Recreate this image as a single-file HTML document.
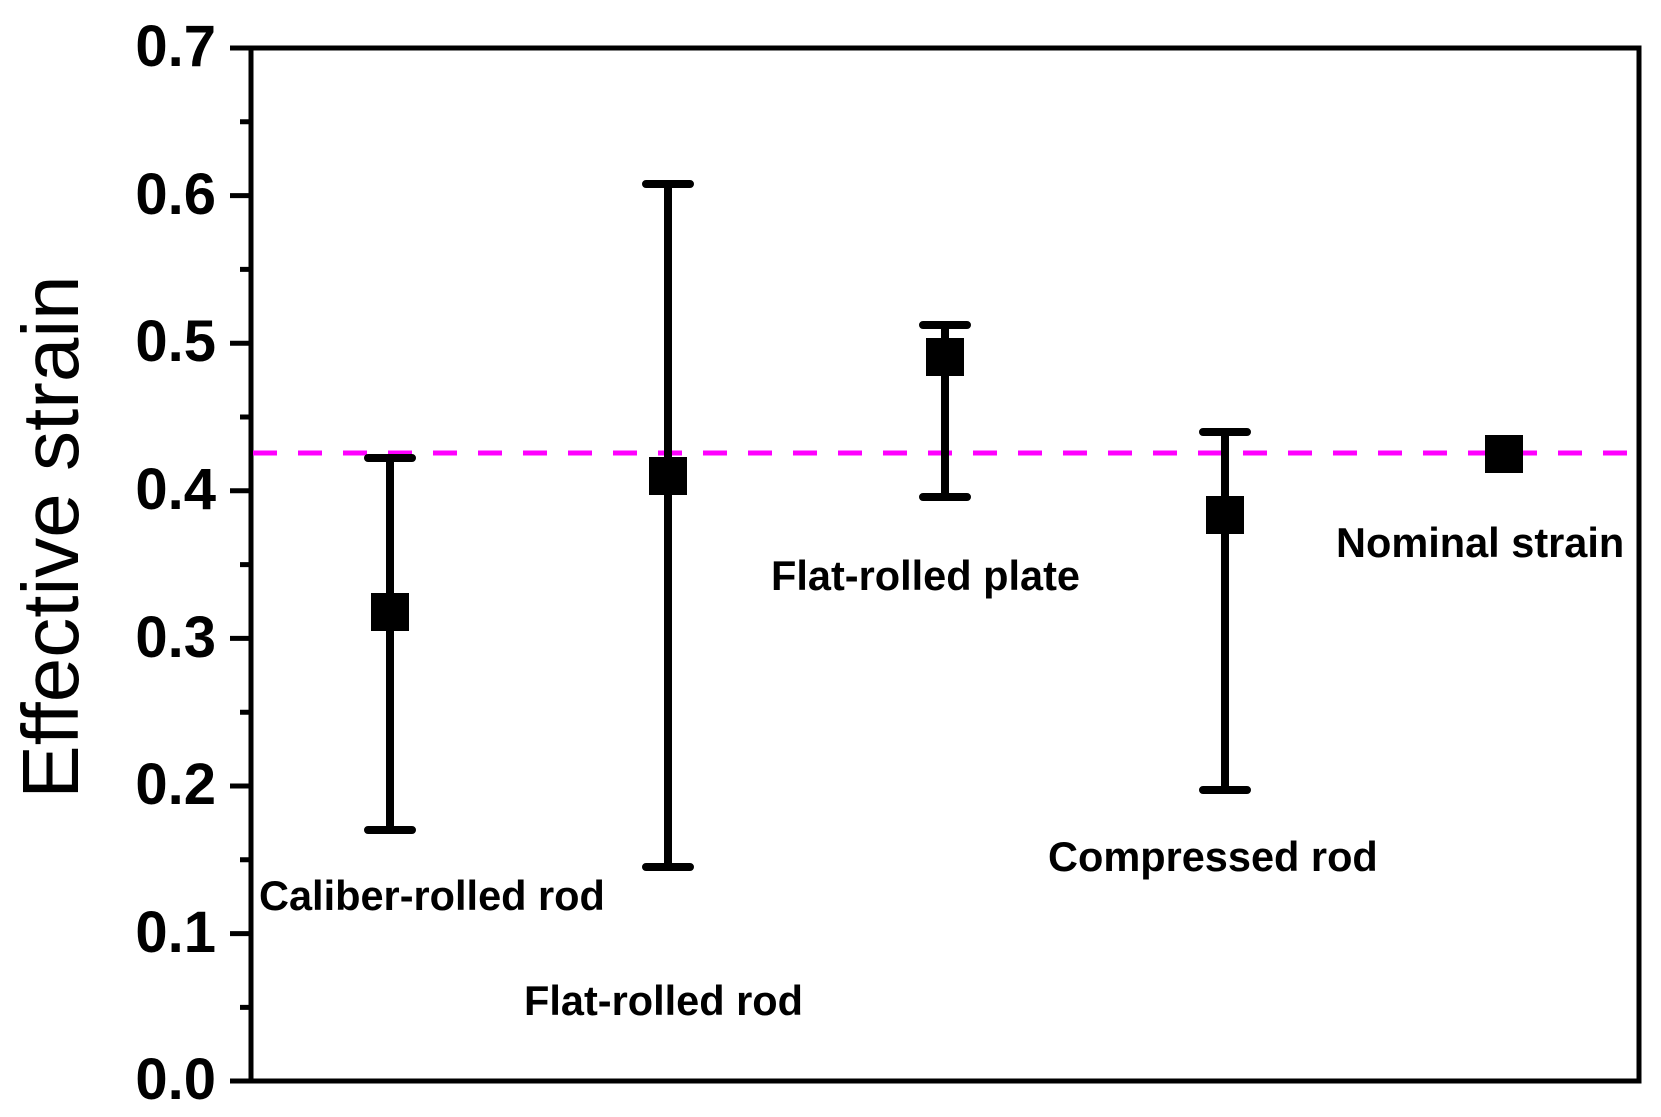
<!DOCTYPE html>
<html><head><style>body{margin:0;background:#fff}svg{display:block}</style></head><body>
<svg width="1661" height="1117" xmlns="http://www.w3.org/2000/svg" font-family="Liberation Sans, sans-serif">
<rect width="1661" height="1117" fill="#fff"/>
<g stroke="#000" stroke-width="5" fill="none">
<rect x="251" y="48" width="1388" height="1033"/>
<path d="M230 48H251M230 195.6H251M230 343.2H251M230 490.8H251M230 638.4H251M230 786H251M230 933.6H251M230 1081H251"/>
<path d="M240 121.8H251M240 269.4H251M240 417H251M240 564.6H251M240 712.2H251M240 859.8H251M240 1007.4H251"/>
</g>
<g font-size="58" font-weight="bold" text-anchor="end">
<text x="216" y="66">0.7</text><text x="216" y="214">0.6</text><text x="216" y="361">0.5</text>
<text x="216" y="509">0.4</text><text x="216" y="657">0.3</text><text x="216" y="804">0.2</text>
<text x="216" y="952">0.1</text><text x="216" y="1099">0.0</text>
</g>
<text transform="translate(78,537) rotate(-90)" font-size="80" text-anchor="middle">Effective strain</text>
<line x1="253" y1="453" x2="1637" y2="453" stroke="#f0f" stroke-width="5" stroke-dasharray="24 21"/>
<g stroke="#000" stroke-width="8" stroke-linecap="round">
<path d="M390 458V830M368 458H412M368 830H412"/>
<path d="M668 184V867M646 184H690M646 867H690"/>
<path d="M945 325V497M923 325H967M923 497H967"/>
<path d="M1225 432V790M1203 432H1247M1203 790H1247"/>
</g>
<g fill="#000">
<rect x="371" y="593" width="38" height="38"/>
<rect x="649" y="457" width="38" height="38"/>
<rect x="926" y="338" width="38" height="38"/>
<rect x="1206" y="496" width="38" height="38"/>
<rect x="1485" y="435" width="38" height="38"/>
</g>
<g font-size="41.5" font-weight="bold">
<text x="259" y="910">Caliber-rolled rod</text>
<text x="524" y="1015">Flat-rolled rod</text>
<text x="771" y="590">Flat-rolled plate</text>
<text x="1048" y="871">Compressed rod</text>
<text x="1336" y="557">Nominal strain</text>
</g>
</svg>
</body></html>
